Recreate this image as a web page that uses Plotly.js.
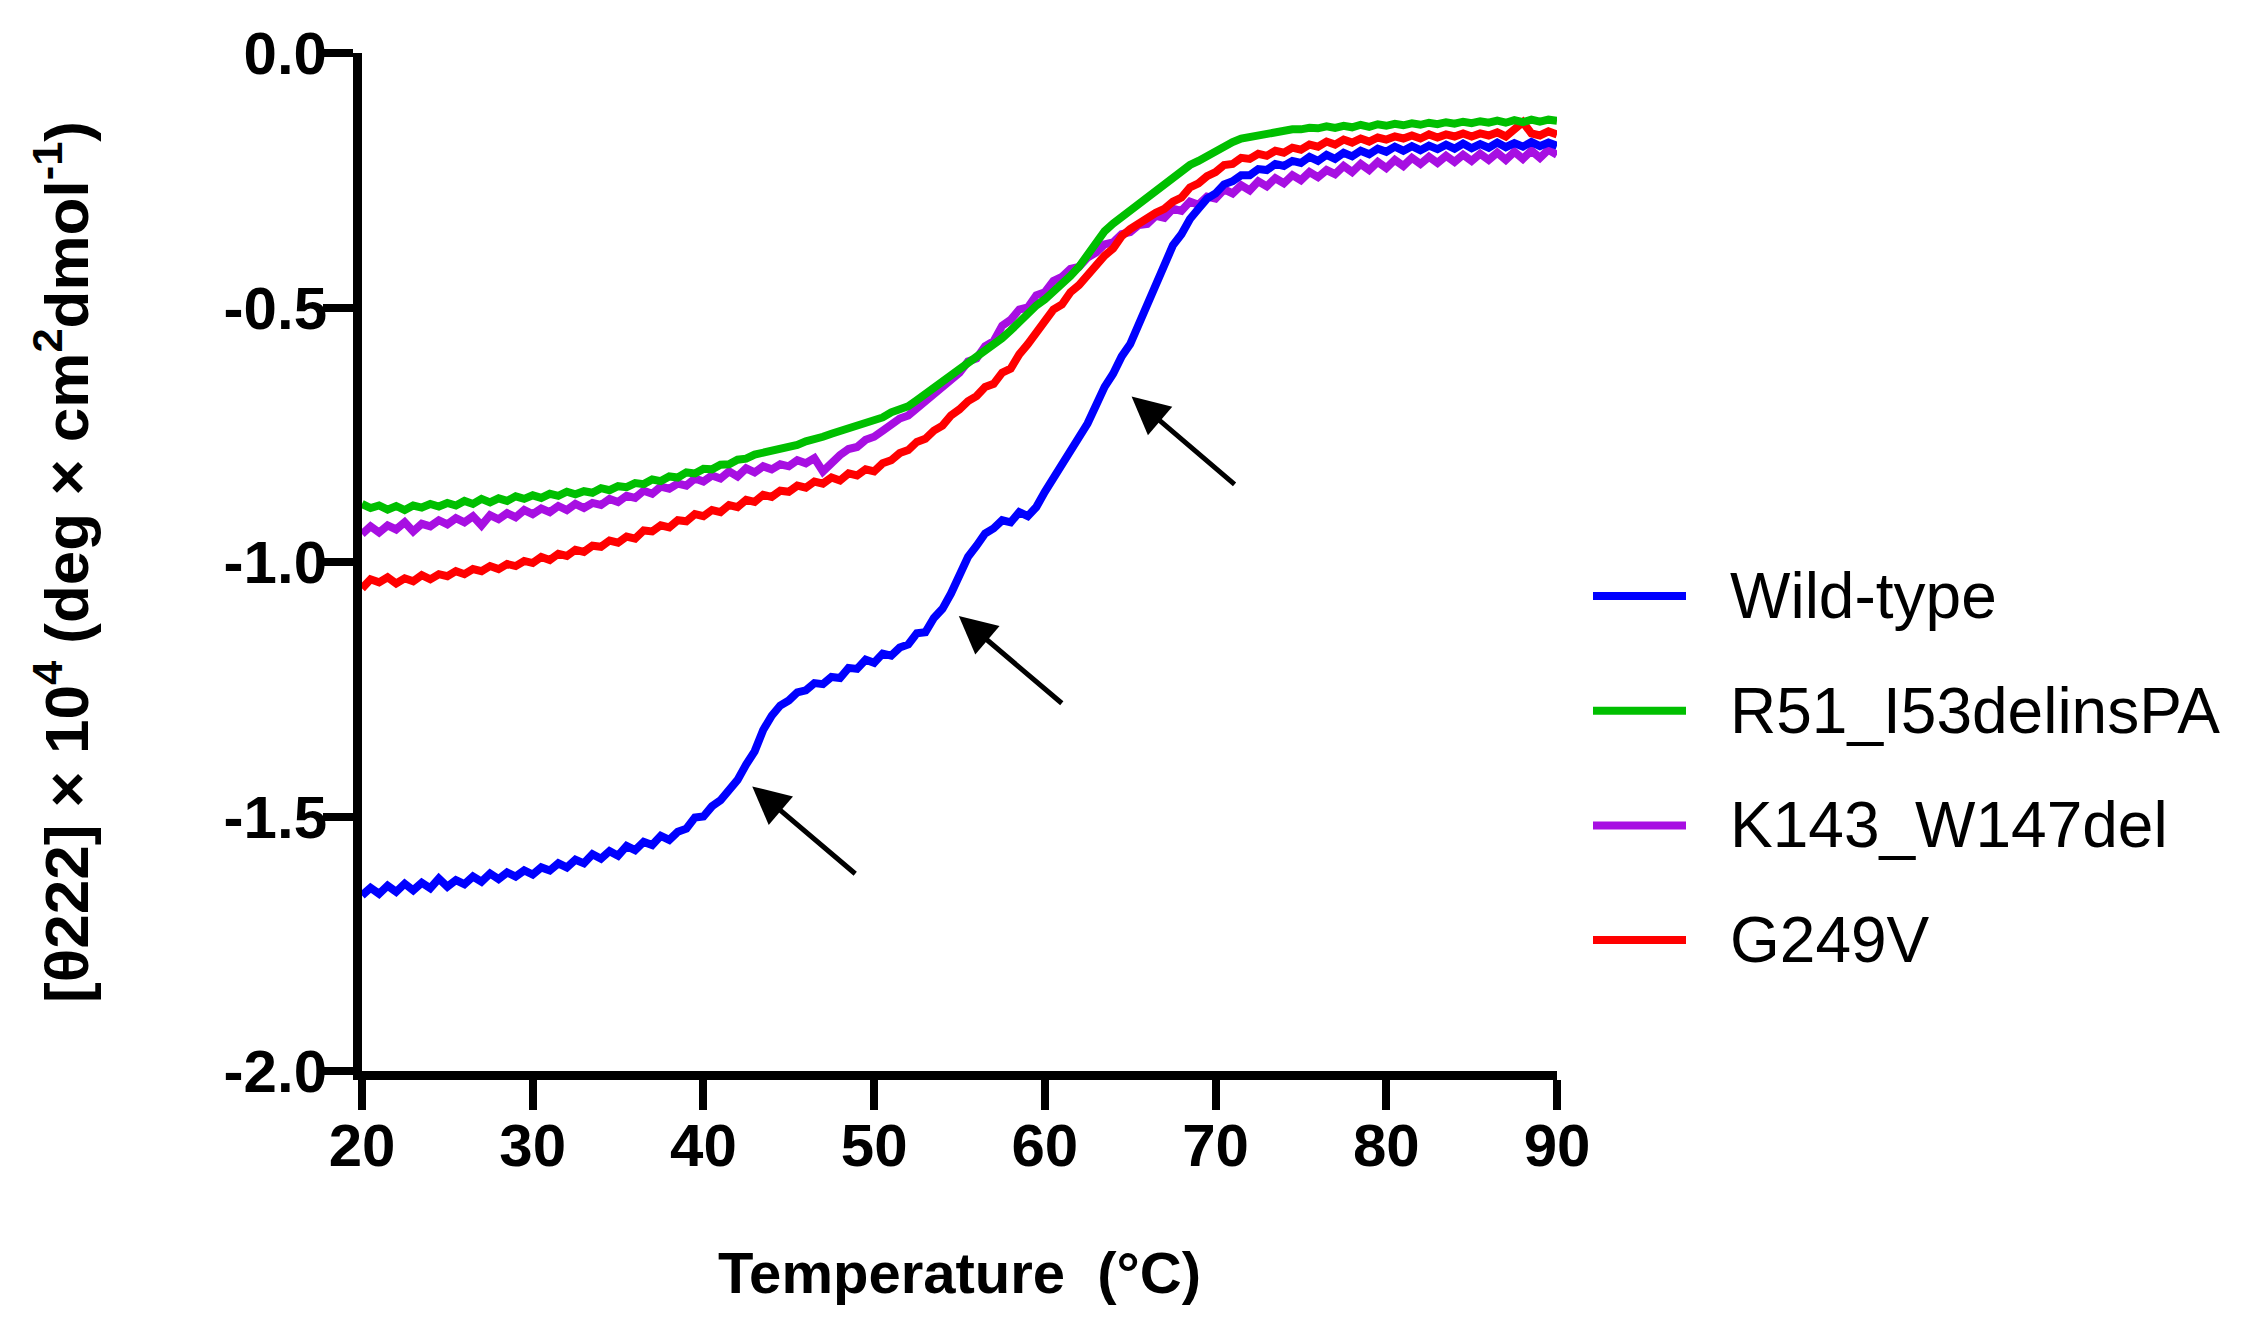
<!DOCTYPE html>
<html>
<head>
<meta charset="utf-8">
<script src="https://cdn.plot.ly/plotly-3.0.1.min.js"></script>
<style>
  html, body { margin: 0; padding: 0; background: #fff; }
  #chart { width: 2249px; height: 1341px; }
</style>
</head>
<body>
<div id="chart"></div>
<script>
// temperature steps of the melt (°C)
const temperature = [
  20, 20.5, 21, 21.5, 22, 22.5, 23, 23.5, 24, 24.5,
  25, 25.5, 26, 26.5, 27, 27.5, 28, 28.5, 29, 29.5,
  30, 30.5, 31, 31.5, 32, 32.5, 33, 33.5, 34, 34.5,
  35, 35.5, 36, 36.5, 37, 37.5, 38, 38.5, 39, 39.5,
  40, 40.5, 41, 41.5, 42, 42.5, 43, 43.5, 44, 44.5,
  45, 45.5, 46, 46.5, 47, 47.5, 48, 48.5, 49, 49.5,
  50, 50.5, 51, 51.5, 52, 52.5, 53, 53.5, 54, 54.5,
  55, 55.5, 56, 56.5, 57, 57.5, 58, 58.5, 59, 59.5,
  60, 60.5, 61, 61.5, 62, 62.5, 63, 63.5, 64, 64.5,
  65, 65.5, 66, 66.5, 67, 67.5, 68, 68.5, 69, 69.5,
  70, 70.5, 71, 71.5, 72, 72.5, 73, 73.5, 74, 74.5,
  75, 75.5, 76, 76.5, 77, 77.5, 78, 78.5, 79, 79.5,
  80, 80.5, 81, 81.5, 82, 82.5, 83, 83.5, 84, 84.5,
  85, 85.5, 86, 86.5, 87, 87.5, 88, 88.5, 89, 89.5,
  90,
];

// [θ222] x 10^4, one row per 5 °C
const wildType = [
  -1.655, -1.640, -1.652, -1.636, -1.648, -1.632, -1.645, -1.630, -1.641, -1.622,
  -1.638, -1.625, -1.633, -1.618, -1.628, -1.612, -1.623, -1.610, -1.618, -1.606,
  -1.614, -1.600, -1.606, -1.592, -1.600, -1.585, -1.592, -1.574, -1.583, -1.568,
  -1.577, -1.558, -1.566, -1.550, -1.556, -1.538, -1.546, -1.530, -1.524, -1.502,
  -1.500, -1.480, -1.468, -1.446, -1.428, -1.398, -1.372, -1.330, -1.302, -1.282,
  -1.272, -1.256, -1.252, -1.238, -1.240, -1.226, -1.228, -1.208, -1.210, -1.192,
  -1.198, -1.180, -1.184, -1.168, -1.162, -1.140, -1.138, -1.110, -1.092, -1.062,
  -1.024, -0.990, -0.968, -0.944, -0.934, -0.918, -0.922, -0.902, -0.910, -0.892,
  -0.862, -0.836, -0.808, -0.786, -0.760, -0.728, -0.692, -0.656, -0.630, -0.596,
  -0.572, -0.534, -0.497, -0.452, -0.412, -0.378, -0.356, -0.326, -0.306, -0.286,
  -0.276, -0.258, -0.252, -0.240, -0.240, -0.228, -0.230, -0.218, -0.222, -0.212,
  -0.216, -0.204, -0.212, -0.200, -0.208, -0.196, -0.203, -0.192, -0.199, -0.188,
  -0.194, -0.184, -0.192, -0.183, -0.191, -0.182, -0.189, -0.180, -0.188, -0.178,
  -0.187, -0.179, -0.186, -0.176, -0.185, -0.177, -0.184, -0.175, -0.183, -0.176,
  -0.182,
];

const r51 = [
  -0.886, -0.894, -0.889, -0.897, -0.890, -0.898, -0.889, -0.893, -0.886, -0.891,
  -0.884, -0.889, -0.880, -0.886, -0.876, -0.883, -0.875, -0.880, -0.871, -0.876,
  -0.869, -0.874, -0.866, -0.870, -0.862, -0.867, -0.861, -0.864, -0.855, -0.859,
  -0.851, -0.853, -0.845, -0.847, -0.838, -0.841, -0.832, -0.834, -0.824, -0.826,
  -0.817, -0.818, -0.809, -0.808, -0.799, -0.797, -0.789, -0.786, -0.781, -0.778,
  -0.773, -0.770, -0.763, -0.760, -0.754, -0.748, -0.743, -0.737, -0.734, -0.729,
  -0.722, -0.716, -0.706, -0.700, -0.694, -0.682, -0.670, -0.660, -0.646, -0.636,
  -0.622, -0.612, -0.597, -0.587, -0.572, -0.560, -0.545, -0.528, -0.512, -0.496,
  -0.484, -0.470, -0.456, -0.438, -0.420, -0.398, -0.374, -0.350, -0.335, -0.322,
  -0.312, -0.296, -0.284, -0.270, -0.258, -0.244, -0.232, -0.220, -0.212, -0.202,
  -0.192, -0.182, -0.175, -0.168, -0.165, -0.160, -0.158, -0.154, -0.153, -0.150,
  -0.150, -0.147, -0.148, -0.144, -0.147, -0.143, -0.146, -0.141, -0.145, -0.140,
  -0.143, -0.139, -0.142, -0.138, -0.141, -0.137, -0.140, -0.136, -0.139, -0.135,
  -0.138, -0.134, -0.137, -0.133, -0.137, -0.132, -0.136, -0.131, -0.135, -0.131,
  -0.133,
];

const k143 = [
  -0.945, -0.930, -0.942, -0.928, -0.936, -0.922, -0.940, -0.925, -0.930, -0.918,
  -0.926, -0.914, -0.922, -0.910, -0.928, -0.908, -0.916, -0.904, -0.912, -0.898,
  -0.906, -0.895, -0.902, -0.890, -0.898, -0.886, -0.894, -0.884, -0.888, -0.876,
  -0.882, -0.870, -0.874, -0.860, -0.866, -0.852, -0.856, -0.846, -0.850, -0.836,
  -0.842, -0.830, -0.836, -0.822, -0.832, -0.816, -0.824, -0.812, -0.818, -0.808,
  -0.812, -0.800, -0.806, -0.796, -0.822, -0.804, -0.790, -0.778, -0.774, -0.760,
  -0.754, -0.742, -0.730, -0.718, -0.712, -0.698, -0.682, -0.668, -0.652, -0.638,
  -0.628, -0.606, -0.600, -0.576, -0.566, -0.536, -0.524, -0.504, -0.500, -0.476,
  -0.470, -0.448, -0.440, -0.424, -0.420, -0.402, -0.392, -0.376, -0.372, -0.356,
  -0.352, -0.338, -0.336, -0.320, -0.324, -0.306, -0.310, -0.292, -0.298, -0.282,
  -0.286, -0.268, -0.276, -0.260, -0.270, -0.252, -0.262, -0.246, -0.256, -0.240,
  -0.250, -0.234, -0.244, -0.230, -0.238, -0.222, -0.234, -0.218, -0.230, -0.214,
  -0.226, -0.210, -0.222, -0.206, -0.218, -0.204, -0.216, -0.202, -0.214, -0.200,
  -0.212, -0.198, -0.210, -0.196, -0.210, -0.194, -0.208, -0.192, -0.206, -0.190,
  -0.200,
];

const g249v = [
  -1.052, -1.034, -1.040, -1.030, -1.042, -1.032, -1.038, -1.026, -1.034, -1.024,
  -1.028, -1.018, -1.024, -1.014, -1.018, -1.008, -1.014, -1.004, -1.008, -0.998,
  -1.002, -0.990, -0.996, -0.984, -0.988, -0.976, -0.980, -0.968, -0.970, -0.958,
  -0.962, -0.950, -0.954, -0.938, -0.940, -0.928, -0.932, -0.918, -0.920, -0.906,
  -0.910, -0.898, -0.902, -0.888, -0.892, -0.878, -0.882, -0.868, -0.872, -0.860,
  -0.862, -0.850, -0.854, -0.842, -0.846, -0.834, -0.840, -0.826, -0.830, -0.818,
  -0.822, -0.806, -0.800, -0.786, -0.780, -0.764, -0.758, -0.742, -0.732, -0.712,
  -0.700, -0.684, -0.674, -0.656, -0.650, -0.628, -0.620, -0.592, -0.572, -0.548,
  -0.530, -0.504, -0.494, -0.470, -0.456, -0.436, -0.420, -0.398, -0.384, -0.360,
  -0.346, -0.334, -0.324, -0.314, -0.306, -0.292, -0.284, -0.264, -0.256, -0.242,
  -0.234, -0.220, -0.218, -0.206, -0.208, -0.198, -0.202, -0.192, -0.196, -0.186,
  -0.190, -0.180, -0.184, -0.174, -0.180, -0.170, -0.176, -0.168, -0.174, -0.166,
  -0.170, -0.164, -0.168, -0.162, -0.168, -0.160, -0.166, -0.160, -0.164, -0.158,
  -0.164, -0.158, -0.162, -0.156, -0.164, -0.150, -0.136, -0.158, -0.162, -0.154,
  -0.160,
];

const seriesNames = ['Wild-type', 'R51_I53delinsPA', 'K143_W147del', 'G249V'];
const seriesValues = [wildType, r51, k143, g249v];
const seriesColors = ['#0000ff', '#00bf00', '#a70fe2', '#ff0000'];

const xTicks = [20, 30, 40, 50, 60, 70, 80, 90];
const yTicks = [0, -0.5, -1, -1.5, -2];
const yTickText = ['0.0', '-0.5', '-1.0', '-1.5', '-2.0'];

// arrows: head sits on the curve, tail lower right
const arrowHeadT = [42.86, 54.96, 65.08];
const arrowHeadV = [-1.441, -1.106, -0.675];
const arrowTailT = [48.98, 61.08, 71.2];
const arrowTailV = [-1.615, -1.280, -0.850];

// bottom to top: K143 under G249V under R51 under wild-type
const drawOrder = [2, 3, 1, 0];
const traces = drawOrder.map((i) => ({
  type: 'scatter',
  mode: 'lines',
  name: seriesNames[i],
  x: temperature,
  y: seriesValues[i],
  line: { color: seriesColors[i], width: 8 },
  hoverinfo: 'skip',
}));

const boldFont = 'Liberation Sans, Arial, Helvetica, sans-serif';

const annotations = arrowHeadT.map((t, i) => ({
  x: t,
  y: arrowHeadV[i],
  ax: arrowTailT[i],
  ay: arrowTailV[i],
  xref: 'x',
  yref: 'y',
  axref: 'x',
  ayref: 'y',
  text: '',
  showarrow: true,
  arrowhead: 2,
  arrowsize: 1.5,
  arrowwidth: 5,
  arrowcolor: '#000',
  standoff: 0,
}));

// legend drawn by hand so the line swatches are as long as in the figure
const shapes = [];
const plotLeft = 362;
const plotW = 1195;
const plotBottom = 1071;
const plotH = 1018;
seriesNames.forEach((name, i) => {
  const py = 596 + i * 114.7;
  const yp = (plotBottom - py) / plotH;
  shapes.push({
    type: 'line',
    xref: 'paper',
    yref: 'paper',
    x0: (1593 - plotLeft) / plotW,
    x1: (1686 - plotLeft) / plotW,
    y0: yp,
    y1: yp,
    line: { color: seriesColors[i], width: 8 },
  });
  annotations.push({
    xref: 'paper',
    yref: 'paper',
    x: (1728 - plotLeft) / plotW,
    y: yp,
    xanchor: 'left',
    yanchor: 'middle',
    text: name,
    showarrow: false,
    font: { family: boldFont, size: 64, color: '#000' },
  });
});

const layout = {
  width: 2249,
  height: 1341,
  margin: { l: 362, r: 692, t: 53, b: 270 },
  paper_bgcolor: '#ffffff',
  plot_bgcolor: '#ffffff',
  showlegend: false,
  font: { family: boldFont, color: '#000' },
  xaxis: {
    range: [20, 90],
    tickmode: 'array',
    tickvals: xTicks,
    ticktext: xTicks.map(String),
    showgrid: false,
    zeroline: false,
    showline: true,
    linecolor: '#000',
    linewidth: 9,
    ticks: 'outside',
    ticklen: 30,
    tickwidth: 8,
    tickcolor: '#000',
    ticklabelstandoff: -16,
    tickfont: { family: boldFont, size: 60, weight: 'bold', color: '#000' },
    title: {
      text: 'Temperature\u00a0 (°C)',
      standoff: 78,
      font: { family: boldFont, size: 58, weight: 'bold', color: '#000' },
    },
  },
  yaxis: {
    range: [-2, 0],
    tickmode: 'array',
    tickvals: yTicks,
    ticktext: yTickText,
    showgrid: false,
    zeroline: false,
    showline: true,
    linecolor: '#000',
    linewidth: 9,
    ticks: 'outside',
    ticklen: 30,
    tickwidth: 8,
    tickcolor: '#000',
    ticklabelstandoff: -16,
    tickfont: { family: boldFont, size: 60, weight: 'bold', color: '#000' },
    title: {
      text: '[θ222] × 10<sup>4</sup> (deg × cm<sup>2</sup>dmol<sup>-1</sup>)',
      standoff: 118,
      font: { family: boldFont, size: 62, weight: 'bold', color: '#000' },
    },
  },
  annotations,
  shapes,
};

Plotly.newPlot('chart', traces, layout, { displayModeBar: false, staticPlot: true });
</script>
</body>
</html>
